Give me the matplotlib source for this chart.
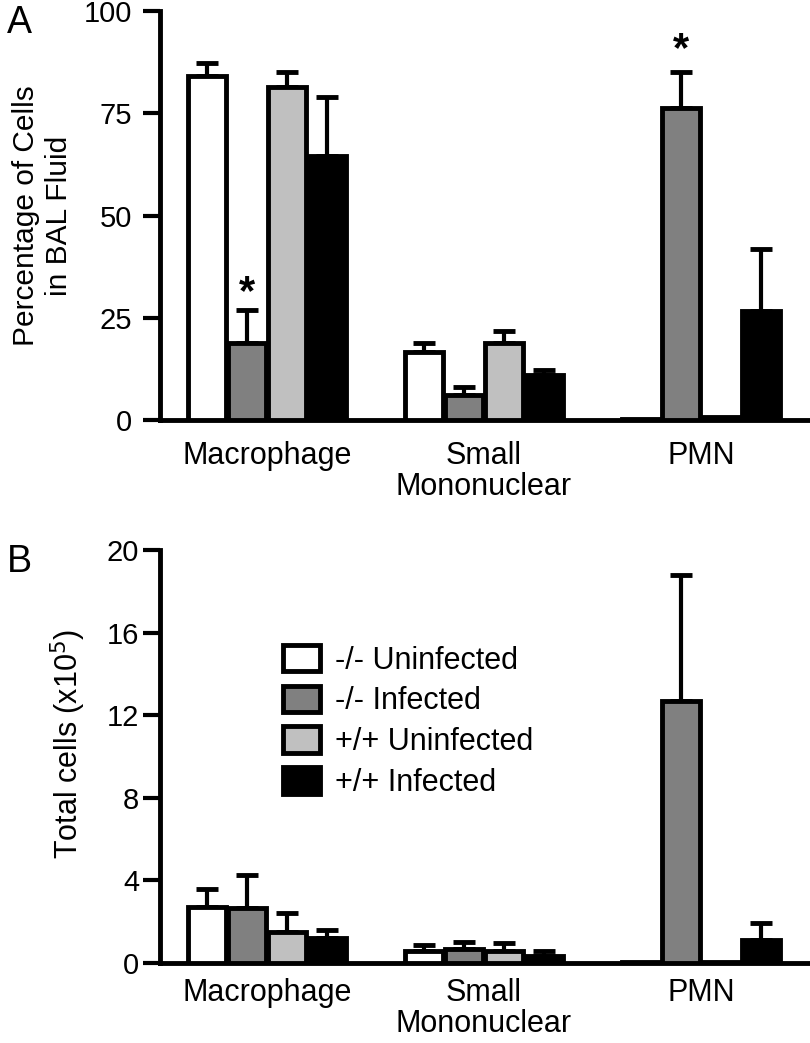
import matplotlib.pyplot as plt
from matplotlib.patches import Patch
import numpy as np

plt.rcParams['font.family'] = ['Liberation Sans', 'DejaVu Sans']

# datos
cell_types = ["Macrophage", "Small\nMononuclear", "PMN"]
groups = ["-/- Uninfected", "-/- Infected", "+/+ Uninfected", "+/+ Infected"]
colors = ["#ffffff", "#808080", "#c0c0c0", "#000000"]

pct_mean = [
    [84.1, 16.6, 0.4],
    [18.8, 6.1, 76.2],
    [81.4, 18.8, 0.9],
    [64.5, 11.0, 26.6],
]
pct_err = [
    [3.2, 2.2, 0.0],
    [8.1, 2.0, 8.8],
    [3.6, 3.0, 0.0],
    [14.5, 1.2, 15.2],
]
pct_stars = [(1, 0, 31.0), (1, 2, 90.5)]  # (grupo, tipo, y)

tot_mean = [
    [2.7, 0.6, 0.05],
    [2.65, 0.7, 12.7],
    [1.5, 0.6, 0.05],
    [1.2, 0.35, 1.1],
]
tot_err = [
    [0.9, 0.25, 0.0],
    [1.6, 0.3, 6.1],
    [0.9, 0.35, 0.0],
    [0.4, 0.25, 0.85],
]

LW = 3.5
STEP = 0.184
WIDTH = 0.175


def draw_bars(ax, means, errs, xpad):
    x = np.arange(len(cell_types))
    for i, (m, e) in enumerate(zip(means, errs)):
        pos = x + (i - 1.5) * STEP
        ax.bar(pos, m, width=WIDTH, color=colors[i], edgecolor="black",
               linewidth=LW, zorder=3)
        e = np.array(e)
        mask = e > 0
        ax.errorbar(pos[mask], np.array(m)[mask],
                    yerr=[np.zeros(mask.sum()), e[mask]],
                    fmt="none", ecolor="black", elinewidth=3,
                    capsize=8, capthick=3.5, zorder=2)
    ax.set_xticks(x)
    ax.set_xticklabels(cell_types, fontsize=22, linespacing=1.05)
    ax.set_xlim(-0.493, 2.502)
    for s in ["top", "right"]:
        ax.spines[s].set_visible(False)
    ax.spines["left"].set_linewidth(LW)
    ax.spines["bottom"].set_linewidth(LW)
    ax.tick_params(axis="x", length=0, pad=xpad)
    ax.tick_params(axis="y", length=12, width=3, labelsize=21)


fig = plt.figure(figsize=(8.1, 10.43), dpi=100)

# Panel A
ax1 = fig.add_axes([0.1975, 0.597, 0.8025, 0.3925])
draw_bars(ax1, pct_mean, pct_err, 15)
ax1.set_ylim(0, 100)
ax1.set_yticks([0, 25, 50, 75, 100])
ax1.tick_params(axis="y", pad=8)
ax1.set_ylabel("Percentage of Cells\nin BAL Fluid", fontsize=21.5,
               labelpad=8, linespacing=1.2)
for g, c, y in pct_stars:
    ax1.text(c + (g - 1.5) * STEP, y, "*", ha="center", va="center",
             fontsize=30, fontweight="bold")
fig.text(0.008, 0.995, "A", fontsize=27, va="top", ha="left")

# Panel B
ax2 = fig.add_axes([0.1975, 0.0767, 0.8025, 0.396])
draw_bars(ax2, tot_mean, tot_err, 11)
ax2.set_ylim(0, 20)
ax2.set_yticks([0, 4, 8, 12, 16, 20])
ax2.tick_params(axis="y", pad=3)
ax2.set_ylabel("Total cells (x10$^5$)", fontsize=22)
ax2.yaxis.set_label_coords(-0.11, 0.53)
fig.text(0.008, 0.478, "B", fontsize=27, va="top", ha="left")

handles = [Patch(facecolor=colors[i], edgecolor="black", linewidth=LW)
           for i in range(len(groups))]
ax2.legend(handles, groups, loc="upper left", bbox_to_anchor=(0.19, 0.77),
           frameon=False, fontsize=22, handlelength=1.2, handleheight=0.95,
           handletextpad=0.5, labelspacing=0.33, borderpad=0, borderaxespad=0)

plt.savefig("out.png", dpi=100)
